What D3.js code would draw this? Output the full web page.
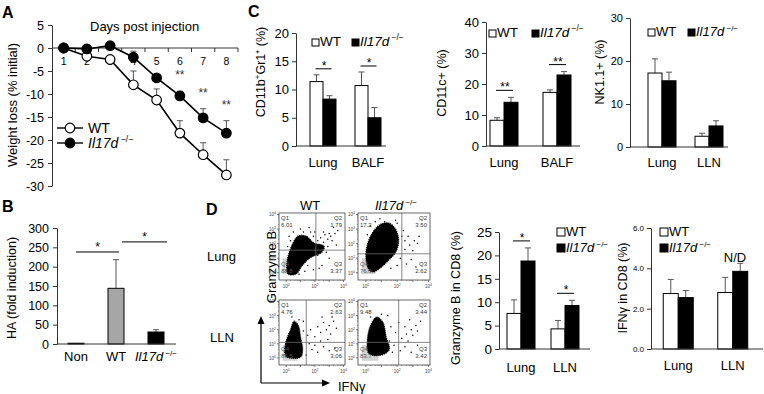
<!DOCTYPE html>
<html>
<head>
<meta charset="utf-8">
<script src="https://cdn.jsdelivr.net/npm/d3@7"></script>
<style>
  body { margin: 0; background: #fff; }
  svg { font-family: "Liberation Sans", Arial, sans-serif; }
</style>
</head>
<body>
<svg id="fig" width="764" height="394"></svg>
<script>
// ---------- A: weight loss ----------
var days = [1, 2, 3, 4, 5, 6, 7, 8];
var wtWeight = [0, -1.8, -2.5, -8.0, -11.3, -18.5, -23.2, -27.6];
var wtWeightErr = [0, 0.4, 0.3, 3.0, 2.4, 2.7, 2.6, 3.3];
var koWeight = [0, -0.2, 0.5, -2.0, -6.5, -10.4, -15.2, -18.5];
var koWeightErr = [0, 0.7, 0.3, 1.3, 0.7, 1.0, 2.0, 2.7];
var weightSigDays = [6, 7, 8];
var weightTicks = [5, 0, -5, -10, -15, -20, -25, -30];

// ---------- B: HA ----------
var haGroups = ['Non', 'WT', 'KO'];
var haValues = [2, 144, 31];
var haErr = [0, 74, 6];
var haSig = [['Non', 'WT', 238], ['WT', 'KO', 264]];
var haTicks = [0, 50, 100, 150, 200, 250, 300];

// ---------- C ----------
var cd11bSites = ['Lung', 'BALF'];
var cd11bWT = [11.4, 10.7], cd11bWTErr = [1.2, 2.4];
var cd11bKO = [8.3, 5.0], cd11bKOErr = [0.6, 1.8];
var cd11bTicks = [0, 5, 10, 15, 20];

var cd11cSites = ['Lung', 'BALF'];
var cd11cWT = [8.3, 17.3], cd11cWTErr = [0.8, 0.8];
var cd11cKO = [14.1, 22.9], cd11cKOErr = [1.6, 1.1];
var cd11cTicks = [0, 10, 20, 30, 40];

var nkSites = ['Lung', 'LLN'];
var nkWT = [17.2, 2.5], nkWTErr = [3.3, 0.7];
var nkKO = [15.4, 4.9], nkKOErr = [2.0, 1.2];
var nkTicks = [0, 10, 20, 30];

// ---------- D: bars ----------
var gzmSites = ['Lung', 'LLN'];
var gzmWT = [7.6, 4.3], gzmWTErr = [2.9, 1.8];
var gzmKO = [18.8, 9.3], gzmKOErr = [2.8, 1.1];
var gzmTicks = [0, 5, 10, 15, 20, 25];

var ifnSites = ['Lung', 'LLN'];
var ifnWT = [2.75, 2.8], ifnWTErr = [0.7, 0.75];
var ifnKO = [2.55, 3.85], ifnKOErr = [0.35, 0.4];
var ifnTicks = [0, 2, 4, 6];

// ---------- D: flow plots (log10 units) ----------
var quadWTLung = ['6.01', '1.79', '3.37', '88.8'];
var quadWTLLN = ['4.76', '2.63', '3.06', '89.5'];
var quadKOLung = ['17.2', '3.50', '2.62', '76.6'];
var quadKOLLN = ['9.48', '3.44', '3.42', '83.7'];

var gateWTLung = [2.07, 1.55], gateWTLLN = [1.4, 1.1];
var gateKOLung = [2.3, 1.3], gateKOLLN = [2.1, 1.1];

var blobWTLung = [[0.13, -0.09], [0.06, 0.74], [0.41, 1.9], [0.82, 2.52], [1.38, 2.52], [1.94, 2.04],
  [2.64, 1.83], [2.5, 1.42], [1.66, 1.01], [1.1, 0.46], [0.69, -0.09]];
var blobWTLLN = [[0.0, 0.1], [-0.05, 1.0], [0.3, 2.0], [0.55, 2.6], [0.85, 2.3], [1.0, 1.5],
  [1.15, 0.6], [1.0, 0.05]];
var blobKOLung = [[0.2, 0.2], [0.0, 1.3], [0.3, 2.5], [0.9, 3.3], [1.5, 3.4], [1.9, 3.0],
  [2.1, 2.2], [1.9, 1.4], [1.4, 0.8], [0.9, 0.3], [0.5, 0.05]];
var blobKOLLN = [[0.2, 0.3], [0.1, 1.3], [0.3, 2.3], [0.7, 2.9], [1.1, 2.5], [1.3, 1.5],
  [1.5, 0.6], [1.0, 0.2]];

var grayWTLung = [[-0.25, -0.1], [0.7, 1.0]];
var grayWTLLN = [[-0.25, -0.2], [0.8, 0.9]];
var grayKOLung = [[-0.25, -0.1], [0.6, 1.0]];
var grayKOLLN = [[-0.25, -0.2], [0.8, 0.9]];

var dotsWTLung = [[2.3, 1.9], [2.6, 2.1], [2.9, 2.3], [3.1, 2.5], [3.4, 2.7], [2.7, 2.6], [3.2, 2.2],
  [2.4, 2.4], [3.6, 2.9], [1.0, 3.0], [1.6, 3.1], [0.5, 2.8], [2.0, 2.8], [2.5, 0.5], [3.0, 1.0],
  [2.3, 0.3], [1.9, 0.2], [2.8, 1.4], [3.5, 1.9], [0.2, 2.5], [0.3, 2.2], [1.2, 2.8], [1.9, 2.5],
  [2.2, 2.2], [2.9, 1.8], [2.2, 1.2], [1.5, 0.5], [0.9, -0.1], [1.3, 0.1], [0.1, 1.8], [2.6, 2.8],
  [3.0, 2.7], [3.3, 3.1], [1.7, 2.8]];
var dotsWTLLN = [[2.0, 1.5], [2.4, 1.8], [2.8, 2.0], [3.0, 2.3], [3.3, 2.6], [2.6, 2.5], [3.1, 1.7],
  [2.2, 2.2], [3.5, 2.1], [1.8, 0.6], [2.2, 0.4], [2.6, 0.8], [3.0, 0.5], [1.5, 1.6], [0.4, 2.9],
  [1.2, 2.6], [2.9, 1.3], [1.7, 2.0], [2.5, 2.9], [3.2, 2.9], [1.4, 0.2], [1.6, 1.0], [1.2, 1.9],
  [2.0, 0.9], [0.9, 2.7], [3.4, 0.7], [2.4, 1.2]];
var dotsKOLung = [[2.5, 1.6], [2.8, 1.9], [3.1, 2.2], [3.4, 2.5], [2.7, 2.5], [3.0, 1.5], [3.3, 2.0],
  [0.3, 3.2], [1.2, 3.5], [2.0, 3.4], [2.6, 0.6], [2.9, 0.9], [3.2, 0.4], [0.1, 2.6], [2.4, 2.9],
  [2.2, 1.0], [2.0, 0.5], [2.3, 2.5], [1.9, 3.6], [0.6, 3.5], [2.5, 2.2], [1.6, 0.3], [0.9, 3.7]];
var dotsKOLLN = [[2.3, 1.4], [2.6, 1.7], [2.9, 2.0], [3.2, 2.3], [3.5, 2.6], [2.5, 2.2], [3.0, 1.6],
  [2.2, 0.5], [2.5, 0.8], [2.9, 0.4], [3.3, 0.9], [1.9, 1.8], [1.8, 0.9], [2.1, 2.5], [0.3, 2.9],
  [1.4, 3.0], [2.7, 1.2], [1.6, 2.2], [1.7, 0.4], [2.8, 2.7], [3.3, 1.9], [1.0, 3.1], [1.5, 1.2]];

var flowTicks = [0, 1, 2, 3, 4];
var flowDomain = [-0.5, 4.1];

var svg = d3.select('#fig');
var FONT = '"Liberation Sans", Arial, sans-serif';

// italic gene name with superscript genotype
function koText(sel, size) {
  sel.append('tspan').attr('font-style', 'italic').text('Il17d');
  sel.append('tspan').attr('font-size', size * 0.62).attr('dy', -size * 0.42).text(' \u2212/\u2212');
}

function panelLetter(t, x, y) {
  svg.append('text').attr('x', x).attr('y', y).attr('font-size', 16).attr('font-weight', 'bold').text(t);
}

function yLabel(g, x, y, size, fill) {
  var t = g.append('text').attr('transform', 'translate(' + x + ',' + y + ') rotate(-90)')
    .attr('text-anchor', 'middle').attr('font-size', size);
  fill(t);
}

function styleAxis(a, size) {
  a.selectAll('text').attr('font-family', FONT).attr('font-size', size).attr('fill', '#000');
  a.selectAll('line,path').attr('stroke', '#333');
}

function errBar(g, x, yTop, yBase, cap) {
  g.append('line').attr('x1', x).attr('x2', x).attr('y1', yBase).attr('y2', yTop)
    .attr('stroke', '#555').attr('stroke-width', 1);
  g.append('line').attr('x1', x - cap).attr('x2', x + cap).attr('y1', yTop).attr('y2', yTop)
    .attr('stroke', '#555').attr('stroke-width', 1);
}

// ---------- Panel A ----------
function drawA() {
  var g = svg.append('g');
  var x = d3.scaleBand().domain(days).range([52, 238]);
  var y = d3.scaleLinear().domain([-30, 5]).range([186, 25]);
  var bw = x.bandwidth();
  var cx = function (d) { return x(d) + bw / 2; };

  g.append('g').attr('transform', 'translate(52,0)')
    .call(d3.axisLeft(y).tickValues(weightTicks).tickFormat(function (d) { return String(d); })
      .tickSize(4).tickSizeOuter(0).tickPadding(4))
    .call(function (a) { styleAxis(a, 12.5); });

  // category axis along zero line, ticks between days
  g.append('line').attr('x1', 52).attr('x2', 238).attr('y1', y(0)).attr('y2', y(0)).attr('stroke', '#333');
  g.selectAll('.bt').data(days.slice(1).map(function (d) { return x(d); }).concat([238]))
    .join('line').attr('x1', function (d) { return d; }).attr('x2', function (d) { return d; })
    .attr('y1', y(0)).attr('y2', y(0) + 4).attr('stroke', '#333');
  g.selectAll('.dl').data(days).join('text')
    .attr('x', cx).attr('y', y(0) + 17).attr('text-anchor', 'middle').attr('font-size', 10.5)
    .text(function (d) { return d; });
  g.append('text').attr('x', 90).attr('y', 31).attr('font-size', 13).text('Days post injection');

  var series = [
    { v: wtWeight, e: wtWeightErr, fill: '#fff' },
    { v: koWeight, e: koWeightErr, fill: '#000' }
  ];
  var line = d3.line().x(function (d) { return cx(d[0]); }).y(function (d) { return y(d[1]); });
  series.forEach(function (s) {
    days.forEach(function (d, i) {
      if (s.e[i] > 0) errBar(g, cx(d), y(s.v[i] + s.e[i]), y(s.v[i]), 3);
    });
    g.append('path').datum(days.map(function (d, i) { return [d, s.v[i]]; }))
      .attr('d', line).attr('fill', 'none').attr('stroke', '#000').attr('stroke-width', 1.6);
  });
  series.forEach(function (s) {
    g.selectAll(null).data(days).join('circle')
      .attr('cx', cx).attr('cy', function (d, i) { return y(s.v[i]); }).attr('r', 4.8)
      .attr('fill', s.fill).attr('stroke', '#000').attr('stroke-width', 1.2);
  });

  // significance
  weightSigDays.forEach(function (d) {
    var i = days.indexOf(d);
    g.append('text').attr('x', cx(d)).attr('y', y(koWeight[i] + koWeightErr[i]) - 12)
      .attr('text-anchor', 'middle').attr('font-size', 12).attr('fill', '#333').text('**');
  });

  yLabel(g, 17, 105, 13, function (t) { t.text('Weight loss (% initial)'); });

  // legend
  [[128, '#fff'], [143, '#000']].forEach(function (l, i) {
    g.append('line').attr('x1', 57).attr('x2', 83).attr('y1', l[0]).attr('y2', l[0]).attr('stroke', '#000').attr('stroke-width', 1.4);
    g.append('circle').attr('cx', 70).attr('cy', l[0]).attr('r', 4.8).attr('fill', l[1]).attr('stroke', '#000').attr('stroke-width', 1.2);
    var t = g.append('text').attr('x', 88).attr('y', l[0] + 5).attr('font-size', 14);
    if (i === 0) t.text('WT'); else koText(t, 14);
  });
}

// ---------- Panel B ----------
function drawB() {
  var g = svg.append('g');
  var x = d3.scaleBand().domain(haGroups).range([56, 176]);
  var y = d3.scaleLinear().domain([0, 300]).range([344, 228]);
  var cx = function (d) { return x(d) + x.bandwidth() / 2; };
  var fills = ['#000', '#a6a6a6', '#000'];

  g.append('g').attr('transform', 'translate(57,0)')
    .call(d3.axisLeft(y).tickValues(haTicks).tickSize(4).tickSizeOuter(0).tickPadding(4))
    .call(function (a) { styleAxis(a, 12.5); });

  haGroups.forEach(function (d, i) {
    if (haErr[i] > 0) errBar(g, cx(d), y(haValues[i] + haErr[i]), y(haValues[i]), 3);
    g.append('rect').attr('x', cx(d) - 8).attr('width', 16)
      .attr('y', y(haValues[i])).attr('height', y(0) - y(haValues[i]))
      .attr('fill', fills[i]).attr('stroke', '#000').attr('stroke-width', 1);
  });
  g.append('line').attr('x1', 57).attr('x2', 176).attr('y1', y(0)).attr('y2', y(0)).attr('stroke', '#333');

  haSig.forEach(function (s, i) {
    var x1 = cx(s[0]) + (i ? 6 : 0), x2 = cx(s[1]) + (i ? 11 : 3);
    g.append('line').attr('x1', x1).attr('x2', x2).attr('y1', y(s[2])).attr('y2', y(s[2])).attr('stroke', '#000');
    g.append('text').attr('x', (x1 + x2) / 2).attr('y', y(s[2]) - 1).attr('text-anchor', 'middle')
      .attr('font-size', 12).text('*');
  });

  haGroups.forEach(function (d, i) {
    var t = g.append('text').attr('x', cx(d)).attr('y', 361).attr('text-anchor', 'middle').attr('font-size', 13);
    if (d === 'KO') koText(t, 13); else t.text(d);
  });
  yLabel(g, 16, 288, 12.5, function (t) { t.text('HA (fold induction)'); });
}

// ---------- grouped bars (C and D) ----------
function groupedBars(p) {
  var g = svg.append('g');
  var y = d3.scaleLinear().domain([0, p.yMax]).range([p.y0, p.y1]);
  var x = d3.scaleBand().domain(p.sites).range(p.band);
  var cx = function (d) { return x(d) + x.bandwidth() / 2; };
  var bw = p.barW;

  g.append('g').attr('transform', 'translate(' + p.x0 + ',0)')
    .call(d3.axisLeft(y).tickValues(p.ticks).tickSize(4).tickSizeOuter(0).tickPadding(3))
    .call(function (a) { styleAxis(a, p.tickFont); });

  p.sites.forEach(function (s, i) {
    var c = cx(s);
    errBar(g, c - bw / 2, y(p.wt[i] + p.wtErr[i]), y(p.wt[i]), 3);
    errBar(g, c + bw / 2, y(p.ko[i] + p.koErr[i]), y(p.ko[i]), 3);
    g.append('rect').attr('x', c - bw).attr('width', bw).attr('y', y(p.wt[i]))
      .attr('height', y(0) - y(p.wt[i])).attr('fill', '#fff').attr('stroke', '#000');
    g.append('rect').attr('x', c).attr('width', bw).attr('y', y(p.ko[i]))
      .attr('height', y(0) - y(p.ko[i])).attr('fill', '#000').attr('stroke', '#000');
    g.append('text').attr('x', c).attr('y', p.labelY).attr('text-anchor', 'middle')
      .attr('font-size', 13).text(s);
    if (p.sig && p.sig[i]) {
      var top = Math.max(p.wt[i] + p.wtErr[i], p.ko[i] + p.koErr[i]);
      var ly = y(top) - p.sigGap;
      g.append('line').attr('x1', c - bw / 2 - 1).attr('x2', c + bw / 2 + 2).attr('y1', ly).attr('y2', ly).attr('stroke', '#000');
      g.append('text').attr('x', c + 1).attr('y', ly + 1).attr('text-anchor', 'middle')
        .attr('font-size', 12).text(p.sig[i]);
    }
  });
  g.append('line').attr('x1', p.x0).attr('x2', p.x1).attr('y1', y(0)).attr('y2', y(0)).attr('stroke', '#333');

  yLabel(g, p.labelX, p.labelMid, 12.5, p.title);

  // legend: white square + WT, black square + Il17d
  var L = p.legend;
  var sq = L.size;
  g.append('rect').attr('x', L.wx).attr('y', L.wy - sq).attr('width', sq).attr('height', sq)
    .attr('fill', '#fff').attr('stroke', '#000');
  g.append('text').attr('x', L.wx + sq + 1).attr('y', L.wy).attr('font-size', L.font).text('WT');
  g.append('rect').attr('x', L.kx).attr('y', L.ky - sq).attr('width', sq).attr('height', sq)
    .attr('fill', '#000').attr('stroke', '#000');
  koText(g.append('text').attr('x', L.kx + sq + 1).attr('y', L.ky).attr('font-size', L.font), L.font);
}

function supTitle(main, sup, rest) {
  return function (t) {
    t.append('tspan').text(main);
    t.append('tspan').attr('font-size', 8).attr('dy', -5).text(sup);
    t.append('tspan').attr('dy', 5).text(rest);
  };
}

// ---------- flow dot plots ----------
function flowPlot(p) {
  var g = svg.append('g').attr('transform', 'translate(' + p.x + ',' + p.y + ')');
  var fx = d3.scaleLinear().domain(flowDomain).range([0, p.w]);
  var fy = d3.scaleLinear().domain(flowDomain).range([p.h, 0]);

  g.append('rect').attr('x', fx(p.gray[0][0])).attr('y', fy(p.gray[1][1]))
    .attr('width', fx(p.gray[1][0]) - fx(p.gray[0][0])).attr('height', fy(p.gray[0][1]) - fy(p.gray[1][1]))
    .attr('fill', '#d2d2d2');
  g.append('path').datum(p.blob)
    .attr('d', d3.line().x(function (d) { return fx(d[0]); }).y(function (d) { return fy(d[1]); })
      .curve(d3.curveCatmullRomClosed.alpha(0.5)))
    .attr('fill', '#000').attr('stroke', '#000').attr('stroke-width', 1.2)
    .attr('stroke-dasharray', '1,1');
  g.selectAll('circle').data(p.dots).join('circle')
    .attr('cx', function (d) { return fx(d[0]); }).attr('cy', function (d) { return fy(d[1]); })
    .attr('r', 0.75).attr('fill', '#000');

  g.append('line').attr('x1', fx(p.gate[0])).attr('x2', fx(p.gate[0])).attr('y1', 0).attr('y2', p.h)
    .attr('stroke', '#666').attr('stroke-width', 0.8);
  g.append('line').attr('x1', 0).attr('x2', p.w).attr('y1', fy(p.gate[1])).attr('y2', fy(p.gate[1]))
    .attr('stroke', '#666').attr('stroke-width', 0.8);
  g.append('rect').attr('width', p.w).attr('height', p.h).attr('fill', 'none')
    .attr('stroke', '#444').attr('stroke-width', 0.8);

  // quadrant names and percentages
  var qpos = [[2, 7, 'start'], [p.w - 3, 7, 'end'], [p.w - 3, p.h - 14, 'end'], [2, p.h - 14, 'start']];
  qpos.forEach(function (q, i) {
    var t = g.append('text').attr('x', q[0]).attr('y', q[1]).attr('text-anchor', q[2])
      .attr('font-size', 6).attr('fill', i === 3 ? '#555' : '#333');
    t.append('tspan').attr('x', q[0]).text('Q' + (i + 1));
    t.append('tspan').attr('x', q[0]).attr('dy', 7).text(p.quad[i]);
  });

  // major and minor ticks
  flowTicks.forEach(function (k) {
    g.append('line').attr('x1', -2).attr('x2', 0).attr('y1', fy(k)).attr('y2', fy(k)).attr('stroke', '#444').attr('stroke-width', 0.7);
    var t = g.append('text').attr('x', -3).attr('y', fy(k) + 2).attr('text-anchor', 'end').attr('font-size', 4.5).attr('fill', '#444');
    t.append('tspan').text('10');
    t.append('tspan').attr('font-size', 3.5).attr('dy', -2).text(k);
    g.append('line').attr('x1', fx(k)).attr('x2', fx(k)).attr('y1', p.h).attr('y2', p.h + 2).attr('stroke', '#444').attr('stroke-width', 0.7);
    if (k % 2 === 0) {
      var b = g.append('text').attr('x', fx(k)).attr('y', p.h + 8).attr('text-anchor', 'middle').attr('font-size', 4.5).attr('fill', '#444');
      b.append('tspan').text('10');
      b.append('tspan').attr('font-size', 3.5).attr('dy', -2).text(k);
    }
    if (k < 4) {
      [2, 4, 6, 8].forEach(function (m) {
        var v = k + Math.log10(m);
        g.append('line').attr('x1', fx(v)).attr('x2', fx(v)).attr('y1', p.h).attr('y2', p.h + 1).attr('stroke', '#444').attr('stroke-width', 0.5);
        g.append('line').attr('x1', -1).attr('x2', 0).attr('y1', fy(v)).attr('y2', fy(v)).attr('stroke', '#444').attr('stroke-width', 0.5);
      });
    }
  });
}

function drawD() {
  var g = svg.append('g');
  g.append('text').attr('x', 310).attr('y', 210).attr('text-anchor', 'middle').attr('font-size', 13).text('WT');
  koText(g.append('text').attr('x', 396).attr('y', 210).attr('text-anchor', 'middle').attr('font-size', 13), 13);
  g.append('text').attr('x', 207).attr('y', 261).attr('font-size', 13).text('Lung');
  g.append('text').attr('x', 210).attr('y', 342).attr('font-size', 13).text('LLN');

  flowPlot({ x: 279, y: 213, w: 66, h: 67, gate: gateWTLung, blob: blobWTLung, gray: grayWTLung, dots: dotsWTLung, quad: quadWTLung });
  flowPlot({ x: 279, y: 300, w: 66, h: 65, gate: gateWTLLN, blob: blobWTLLN, gray: grayWTLLN, dots: dotsWTLLN, quad: quadWTLLN });
  flowPlot({ x: 358, y: 213, w: 72, h: 67, gate: gateKOLung, blob: blobKOLung, gray: grayKOLung, dots: dotsKOLung, quad: quadKOLung });
  flowPlot({ x: 358, y: 300, w: 72, h: 65, gate: gateKOLLN, blob: blobKOLLN, gray: grayKOLLN, dots: dotsKOLLN, quad: quadKOLLN });

  // axis arrows
  g.append('path').attr('d', 'M261,383V322M261,383H324').attr('stroke', '#000').attr('stroke-width', 1.2).attr('fill', 'none');
  g.append('path').attr('d', 'M261,316L257.5,324L264.5,324Z M330,383L322,379.5L322,386.5Z').attr('fill', '#000');
  yLabel(g, 276, 267, 13, function (t) { t.text('Granzyme B'); });
  g.append('text').attr('x', 338).attr('y', 391).attr('font-size', 13).text('IFN\u03b3');
}

// ---------- draw ----------
panelLetter('A', 2, 18);
panelLetter('B', 2, 212);
panelLetter('C', 248, 17);
panelLetter('D', 206, 215);

drawA();
drawB();
drawD();

groupedBars({
  sites: cd11bSites, wt: cd11bWT, wtErr: cd11bWTErr, ko: cd11bKO, koErr: cd11bKOErr, ticks: cd11bTicks,
  yMax: 20, y0: 146, y1: 33, x0: 296, x1: 386, band: [300.5, 390.5], barW: 13, tickFont: 13,
  labelY: 167, labelX: 265, labelMid: 72, sig: ['*', '*'], sigGap: 6,
  title: supTitle('CD11b', '+', 'Gr1\u207a (%)'),
  legend: { wx: 312, wy: 46, kx: 352, ky: 46, size: 7, font: 13.5 }
});
groupedBars({
  sites: cd11cSites, wt: cd11cWT, wtErr: cd11cWTErr, ko: cd11cKO, koErr: cd11cKOErr, ticks: cd11cTicks,
  yMax: 40, y0: 146, y1: 22, x0: 486, x1: 580, band: [477.5, 583.5], barW: 14, tickFont: 13,
  labelY: 167, labelX: 446, labelMid: 83, sig: ['**', '**'], sigGap: 7,
  title: function (t) { t.text('CD11c+ (%)'); },
  legend: { wx: 489, wy: 37, kx: 532, ky: 37, size: 7, font: 13.5 }
});
groupedBars({
  sites: nkSites, wt: nkWT, wtErr: nkWTErr, ko: nkKO, koErr: nkKOErr, ticks: nkTicks,
  yMax: 30, y0: 147, y1: 18, x0: 630, x1: 728, band: [638.5, 732.5], barW: 14, tickFont: 11,
  labelY: 167, labelX: 604, labelMid: 72, sig: null,
  title: function (t) { t.text('NK1.1+ (%)'); },
  legend: { wx: 648, wy: 36, kx: 688, ky: 36, size: 7, font: 13 }
});
groupedBars({
  sites: gzmSites, wt: gzmWT, wtErr: gzmWTErr, ko: gzmKO, koErr: gzmKOErr, ticks: gzmTicks,
  yMax: 25, y0: 349, y1: 232, x0: 499, x1: 590, band: [499, 587], barW: 14, tickFont: 13.5,
  labelY: 372, labelX: 460, labelMid: 298, sig: ['*', '*'], sigGap: 7,
  title: function (t) { t.text('Granzyme  B in CD8 (%)'); },
  legend: { wx: 557, wy: 236, kx: 557, ky: 252, size: 8, font: 13 }
});
groupedBars({
  sites: ifnSites, wt: ifnWT, wtErr: ifnWTErr, ko: ifnKO, koErr: ifnKOErr, ticks: ifnTicks,
  yMax: 6, y0: 349, y1: 228, x0: 651, x1: 763, band: [651, 760], barW: 15, tickFont: 8,
  labelY: 370, labelX: 627, labelMid: 288, sig: null,
  title: function (t) { t.text('IFN\u03b3 in CD8 (%)'); },
  legend: { wx: 660, wy: 236, kx: 660, ky: 252, size: 8, font: 13 }
});
svg.append('text').attr('x', 735).attr('y', 262).attr('text-anchor', 'middle').attr('font-size', 13).text('N/D');
</script>
</body>
</html>
